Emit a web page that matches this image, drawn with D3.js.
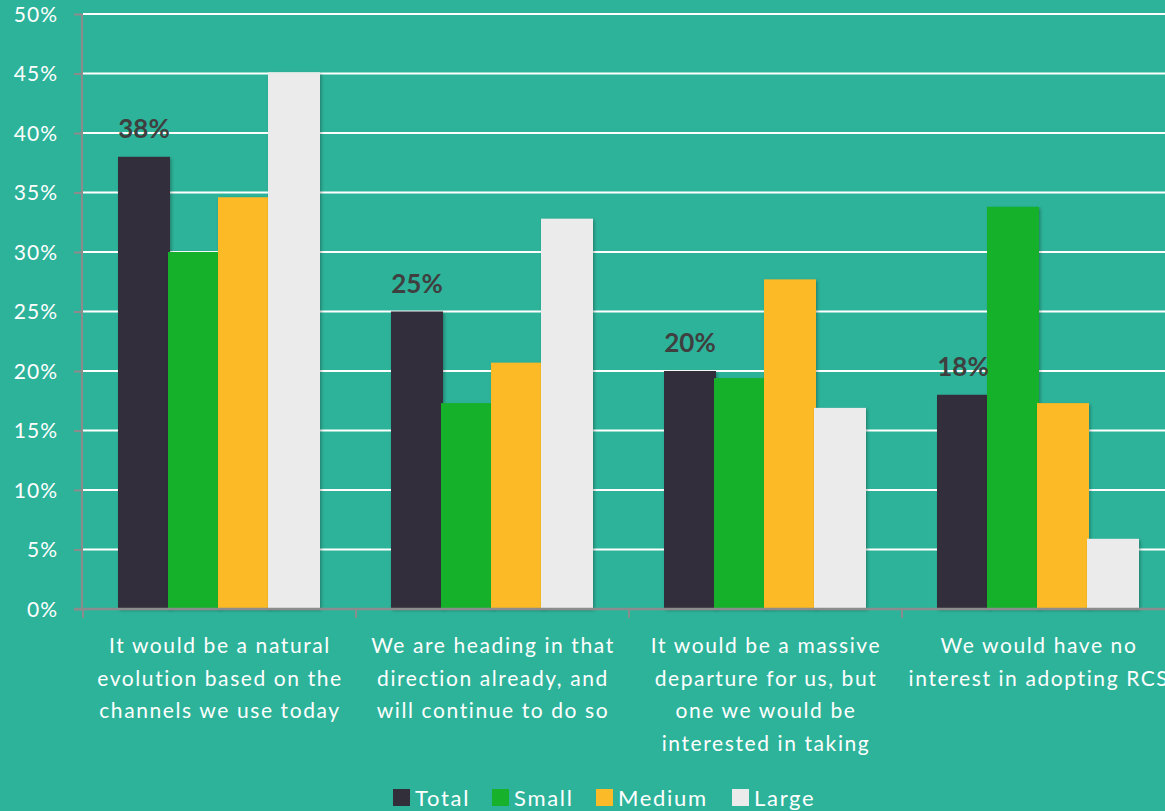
<!DOCTYPE html>
<html>
<head>
<meta charset="utf-8">
<script src="https://cdn.jsdelivr.net/npm/d3@7"></script>
<style>
  html, body { margin: 0; padding: 0; background: #2DB39A; }
  svg { display: block; }
  text { font-family: Lato, "Open Sans", sans-serif; }
</style>
</head>
<body>
<svg id="chart" width="1165" height="811"></svg>
<script>
// Survey answers (multi-line axis labels)
const categories = [
  ["It would be a natural", "evolution based on the", "channels we use today"],
  ["We are heading in that", "direction already, and", "will continue to do so"],
  ["It would be a massive", "departure for us, but", "one we would be", "interested in taking"],
  ["We would have no", "interest in adopting RCS"]
];
const seriesNames = ["Total", "Small", "Medium", "Large"];
const total  = [38, 25, 20, 18];
const small  = [30.0, 17.3, 19.4, 33.8];
const medium = [34.6, 20.7, 27.7, 17.3];
const large  = [45.1, 32.8, 16.9, 5.9];
const yTicks = [0, 5, 10, 15, 20, 25, 30, 35, 40, 45, 50];

const colors = ["#322F3A", "#17B12B", "#FBBA27", "#EBEBEB"];
const seriesValues = [total, small, medium, large];

const svg = d3.select("#chart");
const W = 1165, H = 811;
const x0 = 83, plotRight = 83 + 273 * 4, yTop = 14, yBottom = 609;

const defs = svg.append("defs");
const f = defs.append("filter").attr("id", "shadow")
  .attr("x", "-20%").attr("y", "-20%").attr("width", "150%").attr("height", "150%");
f.append("feDropShadow").attr("dx", 1.5).attr("dy", 1.5)
  .attr("stdDeviation", 1.8).attr("flood-color", "#000").attr("flood-opacity", 0.28);

const x = d3.scaleBand().domain(d3.range(categories.length)).range([x0, plotRight]);
const y = d3.scaleLinear().domain([0, 50]).range([yBottom, yTop]);

// horizontal gridlines
svg.append("g").selectAll("line").data(yTicks.filter(d => d > 0)).join("line")
  .attr("x1", x0).attr("x2", W)
  .attr("y1", d => y(d)).attr("y2", d => y(d))
  .attr("stroke", "#fff").attr("stroke-width", 2.2);

// y axis
const yAxis = svg.append("g").attr("transform", `translate(${x0 - 1},0)`)
  .call(d3.axisLeft(y).tickValues(yTicks).tickFormat(d => d + "%").tickSize(8).tickPadding(17));
yAxis.select(".domain").attr("stroke", "#8C8C8C").attr("stroke-width", 2)
  .attr("d", `M0,${yTop}V${yBottom}`);
yAxis.selectAll(".tick line").attr("stroke", "#8C8C8C").attr("stroke-width", 2);
yAxis.selectAll(".tick text").attr("fill", "#fff").style("font-size", "21px")
  .style("letter-spacing", "1px").attr("dx", "1px")
  .style("font-family", "Lato, 'Open Sans', sans-serif").attr("dy", "0.35em");

// bars: four series per category, each slightly overlapping the previous
const step = 50, bw = 52, groupOffset = 35;
const groups = svg.append("g");
seriesValues.forEach((vals, si) => {
  groups.append("g").selectAll("rect").data(vals).join("rect")
    .attr("x", (d, i) => x(i) + groupOffset + si * step)
    .attr("y", d => y(d))
    .attr("width", bw)
    .attr("height", d => y(0) - y(d))
    .attr("fill", colors[si])
    .attr("filter", "url(#shadow)");
});

// x axis line and category boundary ticks
svg.append("line").attr("x1", x0 - 9).attr("x2", W)
  .attr("y1", yBottom).attr("y2", yBottom)
  .attr("stroke", "#8C8C8C").attr("stroke-width", 2.5);
svg.append("g").selectAll("line").data(d3.range(categories.length + 1)).join("line")
  .attr("x1", i => x0 + i * x.step()).attr("x2", i => x0 + i * x.step())
  .attr("y1", yBottom).attr("y2", yBottom + 9)
  .attr("stroke", "#8C8C8C").attr("stroke-width", 2);

// value labels over Total bars
svg.append("g").selectAll("text").data(total).join("text")
  .attr("x", (d, i) => x(i) + groupOffset + bw / 2)
  .attr("y", d => y(d) - 19)
  .attr("text-anchor", "middle")
  .attr("fill", "#3F3F3F")
  .style("font-size", "26px").style("font-weight", "bold")
  .text(d => d + "%");

// category labels
const catG = svg.append("g");
categories.forEach((lines, i) => {
  const cx = x(i) + x.bandwidth() / 2 + 0.5;
  const t = catG.append("text")
    .attr("x", cx)
    .attr("y", 653)
    .attr("text-anchor", "middle")
    .attr("fill", "#fff")
    .style("font-size", "21px")
    .style("letter-spacing", "1.6px");
  lines.forEach((ln, k) => {
    t.append("tspan").attr("x", cx).attr("y", 653 + k * 32.5).text(ln);
  });
});

// legend
const legendX = [393, 492, 596, 732];
const lg = svg.append("g");
seriesNames.forEach((name, i) => {
  lg.append("rect").attr("x", legendX[i]).attr("y", 789)
    .attr("width", 17).attr("height", 17).attr("fill", colors[i]);
  lg.append("text").attr("x", legendX[i] + 22).attr("y", 806)
    .attr("fill", "#fff").style("font-size", "22px")
    .style("letter-spacing", "1.7px").text(name);
});
</script>
</body>
</html>
